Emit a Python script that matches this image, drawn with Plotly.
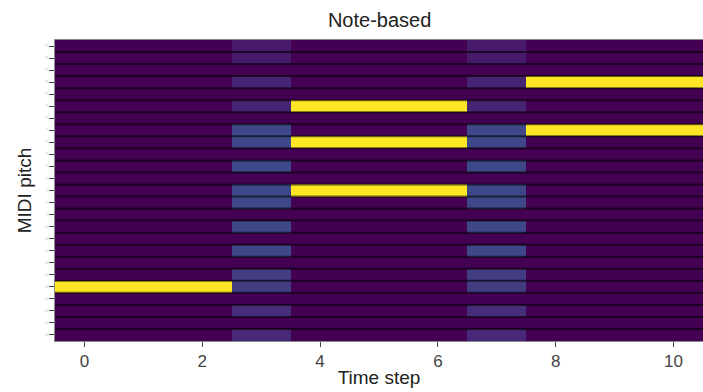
import numpy as np
import plotly.graph_objects as go

# ---- data ----
time_steps = list(range(11))
pitches = list(range(60, 85))          # MIDI pitch, bottom (60) to top (84)
x_ticks = [0, 2, 4, 6, 8, 10]

# held notes: (pitch, first step, last step)
note_pitch = [64, 72, 76, 79, 77, 81]
note_start = [0, 4, 4, 4, 8, 8]
note_end = [2, 6, 6, 6, 10, 10]

# soft (transition) columns
soft_steps = [3, 7]
soft_pitches = [60, 62, 64, 65, 67, 69, 71, 72, 74, 76, 77, 79, 81, 83, 84]
soft_values = [0.11, 0.13, 0.18, 0.18, 0.22, 0.22, 0.22, 0.22, 0.22, 0.22, 0.22, 0.10, 0.10, 0.07, 0.07]

title = "Note-based"
x_label = "Time step"
y_label = "MIDI pitch"

# ---- build matrix ----
z = np.zeros((len(pitches), len(time_steps)))
for p, s, e in zip(note_pitch, note_start, note_end):
    for t in range(s, e + 1):
        z[pitches.index(p), time_steps.index(t)] = 1.0
for t in soft_steps:
    for p, v in zip(soft_pitches, soft_values):
        z[pitches.index(p), time_steps.index(t)] = v

fig = go.Figure()
fig.add_trace(go.Heatmap(
    z=z, x=time_steps, y=pitches,
    colorscale="Viridis", zmin=0, zmax=1, showscale=False,
    hoverinfo="skip",
))

# row separators
for p in pitches[:-1]:
    fig.add_shape(type="line", xref="x", yref="y",
                  x0=-0.5, x1=10.5, y0=p + 0.5, y1=p + 0.5,
                  line=dict(color="rgba(0,0,0,0.6)", width=2))

font = "Liberation Sans, Arial, sans-serif"
fig.update_layout(
    width=703, height=392,
    margin=dict(l=55, r=0, t=40, b=51),
    paper_bgcolor="white", plot_bgcolor="white",
    font=dict(family=font, color="#222222"),
    title=dict(text=title, x=0.54, xanchor="center", y=0.95, yanchor="middle",
               font=dict(size=20, family=font, color="#222222")),
)
fig.update_xaxes(
    range=[-0.5, 10.5], tickvals=x_ticks, ticks="outside", ticklen=5,
    tickcolor="#444444", tickfont=dict(size=17, color="#444444"),
    showline=True, linecolor="#888888", linewidth=1, mirror=True,
    showgrid=False, zeroline=False,
    title=dict(text=x_label, font=dict(size=19, color="#222222"), standoff=0),
)
fig.update_yaxes(
    range=[59.5, 84.5], tickvals=pitches, ticktext=[str(p) for p in pitches],
    ticks="outside", ticklen=5, tickcolor="#444444",
    tickfont=dict(size=3, color="#cccccc"),
    showline=True, linecolor="#888888", linewidth=1, mirror=True,
    showgrid=False, zeroline=False,
    title=dict(text=y_label, font=dict(size=19, color="#222222"), standoff=8),
)

fig.write_html("out.html")
